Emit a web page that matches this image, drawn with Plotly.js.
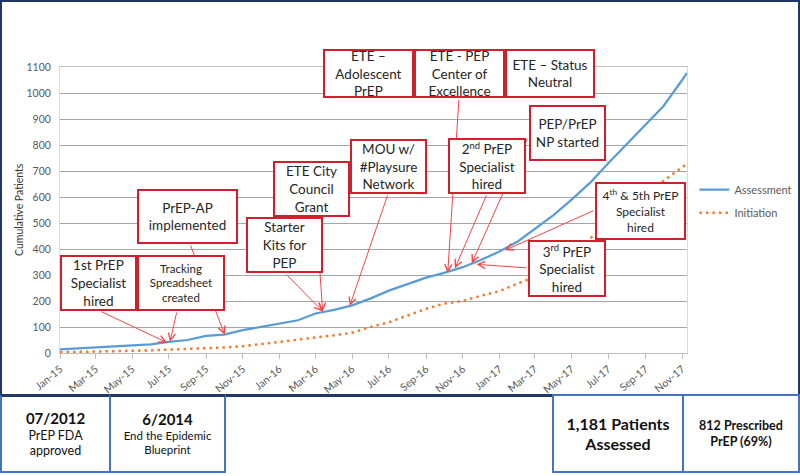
<!DOCTYPE html>
<html>
<head>
<meta charset="utf-8">
<script src="https://cdn.plot.ly/plotly-3.0.1.min.js"></script>
<style>
  html, body { margin: 0; padding: 0; background: #fff; }
  #wrap { position: relative; width: 800px; height: 476px; overflow: hidden; font-family: Lato, "Noto Sans", sans-serif; }
  #chart { position: absolute; left: 0; top: 0; width: 800px; height: 476px; }
  #frame { position: absolute; left: 0; top: 0; width: 796px; height: 392px; border: 2px solid #203864; border-bottom-width: 3px; pointer-events: none; }
  .box { position: absolute; top: 394px; height: 79px; background: #fff; border: 2px solid #4472C4; box-sizing: border-box;
         display: flex; flex-direction: column; justify-content: center; align-items: center; text-align: center; color: #111; line-height: 1.25; }
  .box b { font-weight: 700; }
</style>
</head>
<body>
<div id="wrap">
  <div id="chart"></div>
  <div id="frame"></div>
  <div class="box" style="left:0;width:111px;border-top-color:#203864;border-top-width:3px;">
    <b style="font-size:15px">07/2012</b><span style="font-size:12.5px">PrEP FDA<br>approved</span></div>
  <div class="box" style="left:109px;width:117px;border-top-color:#203864;border-top-width:3px;">
    <b style="font-size:15px">6/2014</b><span style="font-size:11.5px">End the Epidemic<br>Blueprint</span></div>
  <div class="box" style="left:552px;width:132px;">
    <b style="font-size:16px">1,181 Patients<br>Assessed</b></div>
  <div class="box" style="left:682px;width:118px;">
    <b style="font-size:12.5px">812 Prescribed<br>PrEP (69%)</b></div>
</div>
<script>
// monthly cumulative counts
const months = [
  "2015-01-01","2015-02-01","2015-03-01","2015-04-01","2015-05-01","2015-06-01",
  "2015-07-01","2015-08-01","2015-09-01","2015-10-01","2015-11-01","2015-12-01",
  "2016-01-01","2016-02-01","2016-03-01","2016-04-01","2016-05-01","2016-06-01",
  "2016-07-01","2016-08-01","2016-09-01","2016-10-01","2016-11-01","2016-12-01",
  "2017-01-01","2017-02-01","2017-03-01","2017-04-01","2017-05-01","2017-06-01",
  "2017-07-01","2017-08-01","2017-09-01","2017-10-01","2017-11-01","2017-11-09"
];
const assessment = [14,18,21,24,27,33,43,50,66,71,88,100,
                    113,126,152,166,183,210,240,265,290,308,330,358,
                    390,430,478,530,590,655,730,805,880,950,1050,1077];
const initiation = [3,4,5,6,8,10,13,15,18,21,26,34,
                    42,50,59,68,78,100,118,145,170,190,200,220,
                    238,268,292,335,385,440,500,560,612,662,712,728];

// milestone callouts: label + the point on the curve the arrow hits
const events = [
  "1st PrEP<br>Specialist<br>hired",
  "Tracking<br>Spreadsheet<br>created",
  "PrEP-AP<br>implemented",
  "Starter<br>Kits for<br>PEP",
  "ETE City<br>Council<br>Grant",
  "MOU w/<br>#Playsure<br>Network",
  "ETE –<br>Adolescent<br>PrEP",
  "ETE - PEP<br>Center of<br>Excellence",
  "ETE – Status<br>Neutral",
  "2<sup>nd</sup> PrEP<br>Specialist<br>hired",
  "PEP/PrEP<br>NP started",
  "4<sup>th</sup> & 5th PrEP<br>Specialist<br>hired",
  "3<sup>rd</sup> PrEP<br>Specialist<br>hired"
];
const arrowEvent = [0, 1, 2, 3, 4, 5, 7, 9, 10, 12, 11];
const arrowDate  = ["2015-06-28","2015-07-03","2015-10-02","2016-03-13","2016-03-13","2016-04-27",
                    "2016-10-07","2016-10-19","2016-11-16","2016-11-24","2017-01-10"];
const arrowValue = [40, 43, 70, 160, 160, 181, 308, 326, 345, 341, 395];

const xRange = ["2015-01-01", "2017-11-09"];
const yRange = [0, 1100];

// plot area in page pixels
const P = { l: 60, r: 687, t: 67, b: 353 };
const pxX = (x) => (x - P.l) / (P.r - P.l);
const pxY = (y) => (P.b - y) / (P.b - P.t);
function dataPx(date, v) {
  const t0 = Date.parse(xRange[0]), t1 = Date.parse(xRange[1]);
  return [P.l + (Date.parse(date) - t0) / (t1 - t0) * (P.r - P.l),
          P.b - (v - yRange[0]) / (yRange[1] - yRange[0]) * (P.b - P.t)];
}

const FONT = "Lato, 'Noto Sans', sans-serif";
const RED = "#D0202E";

// box rectangles [x0, x1, y0, y1, fontSize] in page pixels, same order as events
const boxes = [
  [60, 137, 255, 311, 13.5],
  [137, 225, 255, 311, 11.5],
  [137, 238, 189, 244, 13.5],
  [246, 323, 217, 273, 13.5],
  [273, 350, 161, 217, 13.5],
  [350, 427, 139, 194, 13.5],
  [323, 414, 49, 98, 13.5],
  [414, 505, 49, 98, 13.5],
  [505, 595, 49, 98, 13.5],
  [448, 526, 138, 194, 13.5],
  [529, 606, 105, 161, 13.5],
  [595, 686, 182, 240, 12],
  [528, 606, 240, 297, 13.5]
];
// where each arrow leaves its box
const tails = [[100, 311], [177, 311], [190, 244], [285, 273], [316, 217], [388, 194],
               [459, 98], [487, 194], [528, 137], [528, 268], [595, 210]];

const annotations = [];
arrowEvent.forEach((e, i) => {
  const tip = dataPx(arrowDate[i], arrowValue[i]);
  annotations.push({
    x: arrowDate[i], y: arrowValue[i], xref: "x", yref: "y",
    ax: tails[i][0] - tip[0], ay: tails[i][1] - tip[1],
    text: "", showarrow: true, arrowhead: 5, arrowsize: 1.4, arrowwidth: 1, arrowcolor: "#F04848"
  });
});
events.forEach((t, i) => {
  const [x0, x1, y0, y1, fs] = boxes[i];
  annotations.push({
    xref: "paper", yref: "paper", x: pxX((x0 + x1) / 2), y: pxY((y0 + y1) / 2),
    xanchor: "center", yanchor: "middle", showarrow: false, text: t,
    width: x1 - x0 - 4, height: y1 - y0 - 4, bgcolor: "#fff",
    bordercolor: RED, borderwidth: 2, borderpad: 0,
    font: { family: FONT, size: fs, color: "#262626" }
  });
});
// y axis title placed by hand
annotations.push({
  xref: "paper", yref: "paper", x: pxX(19), y: 0.5, xanchor: "center", yanchor: "middle",
  showarrow: false, textangle: -90, text: "Cumulative Patients",
  font: { family: FONT, size: 10.5, color: "#333" }
});

const traces = [
  { type: "scatter", mode: "lines", name: "Assessment", x: months, y: assessment,
    line: { color: "#5B9BD5", width: 2.25 }, legendgroup: "a" },
  { type: "scatter", mode: "lines", name: "Initiation", x: months, y: initiation,
    line: { color: "#ED7D31", width: 2.5, dash: "2.5px,4px" }, legendgroup: "b" }
];

const layout = {
  width: 800, height: 476,
  margin: { l: P.l, r: 800 - P.r, t: P.t, b: 476 - P.b, pad: 0, autoexpand: false },
  paper_bgcolor: "#fff", plot_bgcolor: "#fff",
  font: { family: FONT, size: 10.5, color: "#595959" },
  showlegend: true,
  legend: { xref: "container", yref: "container", x: 0.868, y: 0.632, xanchor: "left", yanchor: "top",
            tracegroupgap: 4, itemwidth: 30,
            font: { family: FONT, size: 11, color: "#595959" }, bgcolor: "rgba(0,0,0,0)" },
  xaxis: {
    type: "date", range: xRange, tick0: "2015-01-01", dtick: "M2", tickformat: "%b-%y",
    tickangle: -40, ticks: "outside", ticklen: 5, tickcolor: "#BFBFBF",
    showgrid: false, showline: true, linecolor: "#BFBFBF", linewidth: 1, mirror: true,
    tickfont: { family: FONT, size: 10.5, color: "#595959" }, fixedrange: true
  },
  yaxis: {
    range: yRange, dtick: 100, showgrid: true, gridcolor: "#A6A6A6", gridwidth: 1,
    zeroline: false, showline: true, linecolor: "#D9D9D9", mirror: true, ticks: "",
    ticklabelstandoff: 6,
    tickfont: { family: FONT, size: 10.5, color: "#595959" }
  },
  annotations: annotations
};

Plotly.newPlot("chart", traces, layout, { staticPlot: true, displayModeBar: false });
</script>
</body>
</html>
